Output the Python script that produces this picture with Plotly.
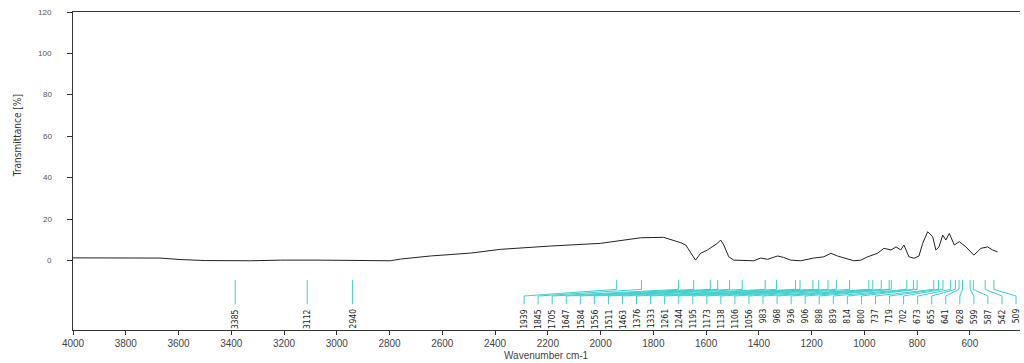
import numpy as np
import plotly.graph_objects as go

# ---- spectrum ----
wavenumber = [4000, 3860, 3772, 3670, 3594, 3499, 3328, 3214, 3063, 2930, 2797, 2759, 2645, 2493,
              2380, 2190, 2000, 1848, 1761, 1696, 1677, 1640, 1621, 1595, 1576, 1557, 1545, 1533,
              1514, 1495, 1419, 1393, 1367, 1329, 1306, 1279, 1241, 1192, 1154, 1127, 1102, 1078,
              1040, 1013, 988, 950, 926, 899, 880, 862, 850, 831, 812, 793, 779, 760, 741, 729,
              717, 703, 691, 678, 659, 640, 615, 585, 558, 533, 514, 495]
transmittance = [1.4, 1.4, 1.5, 1.3, 0.6, 0.1, 0.0, 0.3, 0.3, 0.0, 0.0, 0.8, 2.3, 3.7,
                 5.5, 7.1, 8.4, 11.1, 11.3, 8.7, 7.6, 0.3, 3.6, 5.2, 6.7, 8.4, 10.0, 7.6,
                 1.9, 0.3, 0.0, 1.3, 0.7, 2.3, 1.6, 0.3, 0.0, 1.3, 1.9, 3.6, 2.3, 1.3,
                 0.0, 0.3, 1.9, 3.6, 6.0, 5.2, 6.7, 5.2, 7.6, 1.9, 1.2, 2.3, 8.4, 14.0, 11.6, 5.2,
                 6.7, 12.4, 10.0, 13.2, 7.6, 9.2, 6.7, 2.7, 6.0, 6.7, 5.2, 4.3]

# ---- peak picks ----
isolated_peaks = [3385, 3112, 2940]
dense_peaks = [1939, 1845, 1705, 1647, 1584, 1556, 1511, 1463, 1376, 1333, 1261, 1244,
               1195, 1173, 1138, 1106, 1056, 983, 968, 936, 906, 898, 839, 814, 800,
               737, 719, 702, 673, 655, 641, 628, 599, 587, 542, 509]

x_ticks = list(range(4000, 599, -200))
y_ticks = [0, 20, 40, 60, 80, 100, 120]

CYAN = "#3ccfcf"
AXIS = "#333333"
TXT = "#555555"

fig = go.Figure()

fig.add_trace(go.Scatter(x=wavenumber, y=transmittance, mode="lines",
                         line=dict(color="#222222", width=1), showlegend=False,
                         hoverinfo="skip"))

# peak marker geometry (in data units of the y axis)
y_top, y_mid, y_bend, y_end, y_lab = -9.3, -13.8, -17.0, -21.0, -22.2

# label positions for dense group, spread evenly
lab_x = np.linspace(2290, 425, len(dense_peaks))

lx, ly = [], []
for p in isolated_peaks:
    lx += [p, p, None]
    ly += [y_top, y_end, None]
for p, q in zip(dense_peaks, lab_x):
    lx += [p, p, q, q, None]
    ly += [y_top, y_mid, y_bend, y_end, None]

fig.add_trace(go.Scatter(x=lx, y=ly, mode="lines", line=dict(color=CYAN, width=1),
                         showlegend=False, hoverinfo="skip"))

annotations = []
lab_font = dict(family="Liberation Sans Narrow, DejaVu Sans Condensed, Arial", size=8.5, color="#222222")
for p in isolated_peaks:
    annotations.append(dict(x=p, y=y_lab, xref="x", yref="y", text=str(p), showarrow=False,
                            textangle=-90, xanchor="center", yanchor="top", font=lab_font))
for p, q in zip(dense_peaks, lab_x):
    annotations.append(dict(x=q, y=y_lab, xref="x", yref="y", text=str(p), showarrow=False,
                            textangle=-90, xanchor="center", yanchor="top", font=lab_font))

# y tick labels, set off from the axis
for v in y_ticks:
    annotations.append(dict(x=-0.02, y=v, xref="paper", yref="y", text=str(v), showarrow=False,
                            xanchor="right", yanchor="middle",
                            font=dict(family="Liberation Sans, Arial", size=8, color=TXT)))

# axis titles
annotations.append(dict(x=-0.059, y=0.61, xref="paper", yref="paper", text="Transmittance [%]",
                        showarrow=False, textangle=-90, xanchor="center", yanchor="middle",
                        font=dict(family="Liberation Sans Narrow, DejaVu Sans Condensed, Arial",
                                  size=10, color="#333333")))
annotations.append(dict(x=0.5, y=-0.079, xref="paper", yref="paper", text="Wavenumber cm-1",
                        showarrow=False, xanchor="center", yanchor="middle",
                        font=dict(family="Liberation Sans, Arial", size=10, color="#444444")))

fig.update_layout(
    width=1024, height=363,
    margin=dict(l=73, r=4, t=12, b=33),
    paper_bgcolor="white", plot_bgcolor="white",
    annotations=annotations,
    showlegend=False,
)
fig.update_xaxes(range=[4000, 410], tickvals=x_ticks, ticktext=[str(v) for v in x_ticks],
                 showline=True, linecolor=AXIS, linewidth=1, mirror=True,
                 ticks="outside", ticklen=4, tickcolor=AXIS,
                 tickfont=dict(family="Liberation Sans, Arial", size=10, color="#444444"),
                 showgrid=False, zeroline=False)
fig.update_yaxes(range=[-33.4, 120], tickvals=y_ticks, showticklabels=False,
                 showline=True, linecolor=AXIS, linewidth=1, mirror=False,
                 ticks="outside", ticklen=5, tickcolor=AXIS,
                 showgrid=False, zeroline=False)

fig.write_html("out.html")
